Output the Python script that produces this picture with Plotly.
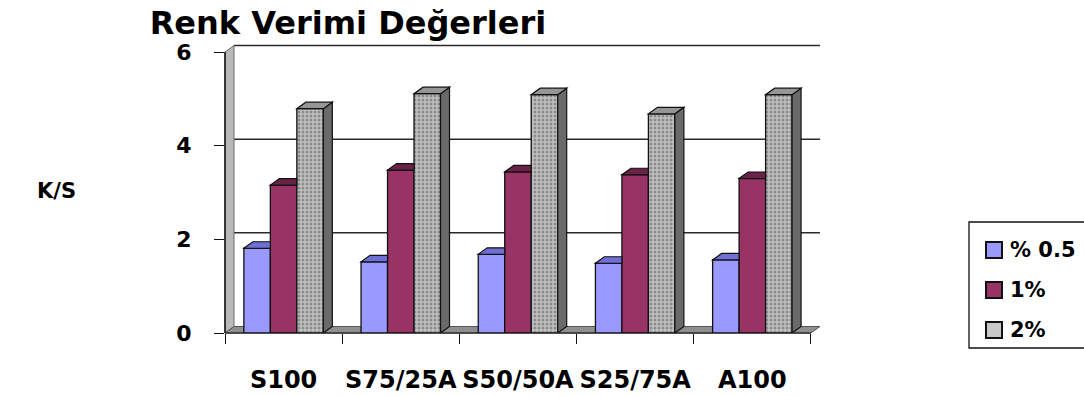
import plotly.graph_objects as go

# ---- data -------------------------------------------------------------
categories = ["S100", "S75/25A", "S50/50A", "S25/75A", "A100"]
series_names = ["% 0.5", "1%", "2%"]
vals_05 = [1.81, 1.52, 1.68, 1.49, 1.56]
vals_1 = [3.16, 3.48, 3.44, 3.38, 3.30]
vals_2 = [4.79, 5.11, 5.09, 4.68, 5.09]
y_ticks = [0, 2, 4, 6]

# ---- styling ----------------------------------------------------------
FONT = "DejaVu Sans"
W, H = 1084, 396
M_L, M_R, M_T, M_B = 225, 259, 38, 63
PLOT_W = W - M_L - M_R
PLOT_H = H - M_T - M_B
XMIN, XMAX = -0.5, 4.62
YMIN, YMAX = 0.0, 6.3
BARGAP = 0.322
BW = (1 - BARGAP) / 3
DEPTH_X, DEPTH_Y = 9, 6.5          # 3-D depth offset in pixels

front = ["#9999ff", "#993366", "#c0c0c0"]
tops = ["#6f6fd6", "#6a2248", "#969696"]
side_gray = "#6a6a6a"
edge = "#111111"

# depth offset expressed in axis units
DX = DEPTH_X * (XMAX - XMIN) / PLOT_W
DY = DEPTH_Y * (YMAX - YMIN) / PLOT_H


def xp(v):
    """x data value -> paper fraction"""
    return (v - XMIN) / (XMAX - XMIN)


def yp(v):
    """y data value -> paper fraction"""
    return (v - YMIN) / (YMAX - YMIN)


def px_x(p):
    return (p - M_L) / PLOT_W


def px_y(p):
    return (H - M_B - p) / PLOT_H


fig = go.Figure()
xs = list(range(len(categories)))
all_vals = [vals_05, vals_1, vals_2]
for k, (name, vals) in enumerate(zip(series_names, all_vals)):
    marker = dict(color=front[k], line=dict(color=edge, width=1.3))
    if k == 2:
        # speckled stone-like fill for the 2% series
        marker["pattern"] = dict(shape=".", fgcolor="#585858", size=4,
                                 solidity=0.45, fillmode="overlay")
    fig.add_trace(go.Bar(x=xs, y=vals, name=name, marker=marker,
                         showlegend=False, hoverinfo="y+name"))

shapes = []
dxp = DX / (XMAX - XMIN)
dyp = DY / (YMAX - YMIN)

# back wall gridlines
for v in [2, 4, 6]:
    shapes.append(dict(type="line", xref="paper", yref="paper", layer="below",
                       x0=xp(-0.5) + dxp, x1=xp(4.5) + dxp,
                       y0=yp(v) + dyp, y1=yp(v) + dyp,
                       line=dict(color="#2a2a2a", width=1.5)))

# left side wall
shapes.append(dict(type="path", xref="paper", yref="paper", layer="below",
                   path=f"M {xp(-0.5)},{yp(0)} L {xp(-0.5)+dxp},{yp(0)+dyp} "
                        f"L {xp(-0.5)+dxp},{yp(6)+dyp} L {xp(-0.5)},{yp(6)} Z",
                   fillcolor="#b9b9b9", line=dict(color="#6a6a6a", width=1)))
# floor
shapes.append(dict(type="path", xref="paper", yref="paper", layer="below",
                   path=f"M {xp(-0.5)},{yp(0)} L {xp(4.5)},{yp(0)} "
                        f"L {xp(4.5)+dxp},{yp(0)+dyp} L {xp(-0.5)+dxp},{yp(0)+dyp} Z",
                   fillcolor="#8f8f8f", line=dict(color="#555555", width=1)))
# front axis lines
shapes.append(dict(type="line", xref="paper", yref="paper", layer="above",
                   x0=xp(-0.5), x1=xp(-0.5), y0=yp(0), y1=yp(6),
                   line=dict(color=edge, width=1.5)))
shapes.append(dict(type="line", xref="paper", yref="paper", layer="below",
                   x0=xp(-0.5), x1=xp(4.5), y0=yp(0), y1=yp(0),
                   line=dict(color="#333333", width=1.5)))

# visible top / side faces of the 3-D bars
for i in xs:
    for k, vals in enumerate(all_vals):
        v = vals[i]
        x0 = i + (k - 1) * BW - BW / 2
        x1 = x0 + BW
        if k < 2:
            # right part of the top is hidden by the next (taller) bar
            path = f"M {x0},{v} L {x1},{v} L {x1},{v+DY} L {x0+DX},{v+DY} Z"
            shapes.append(dict(type="path", xref="x", yref="y", layer="above",
                               path=path, fillcolor=tops[k],
                               line=dict(color=edge, width=1.2)))
        else:
            top = f"M {x0},{v} L {x1},{v} L {x1+DX},{v+DY} L {x0+DX},{v+DY} Z"
            side = f"M {x1},{0} L {x1},{v} L {x1+DX},{v+DY} L {x1+DX},{DY} Z"
            shapes.append(dict(type="path", xref="x", yref="y", layer="above",
                               path=side, fillcolor=side_gray,
                               line=dict(color=edge, width=1.2)))
            shapes.append(dict(type="path", xref="x", yref="y", layer="above",
                               path=top, fillcolor=tops[k],
                               line=dict(color=edge, width=1.2)))

# legend box
leg_left, leg_top, leg_bot = 969, 222, 348
shapes.append(dict(type="rect", xref="paper", yref="paper", layer="above",
                   x0=px_x(leg_left), x1=px_x(W + 10), y0=px_y(leg_bot), y1=px_y(leg_top),
                   fillcolor="white", line=dict(color="#111111", width=1.3)))
annotations = []
leg_centers = [250, 290, 330]
leg_fill = ["#9999ff", "#993366", "#c9c9c9"]
for name, cy, col in zip(series_names, leg_centers, leg_fill):
    shapes.append(dict(type="rect", xref="paper", yref="paper", layer="above",
                       x0=px_x(986), x1=px_x(1002), y0=px_y(cy + 8), y1=px_y(cy - 8),
                       fillcolor=col, line=dict(color="#111111", width=2)))
    annotations.append(dict(xref="paper", yref="paper", x=px_x(1008), y=px_y(cy),
                            xanchor="left", yanchor="middle", showarrow=False,
                            text=f"<b>{name}</b>",
                            font=dict(family=FONT, size=21, color="black")))

# y axis caption
annotations.append(dict(xref="paper", yref="paper", x=px_x(56), y=px_y(191),
                        xanchor="center", yanchor="middle", showarrow=False,
                        text="<b>K/S</b>", font=dict(family=FONT, size=21, color="black")))

fig.update_layout(
    width=W, height=H,
    margin=dict(l=M_L, r=M_R, t=M_T, b=M_B, autoexpand=False),
    paper_bgcolor="white", plot_bgcolor="rgba(0,0,0,0)",
    barmode="group", bargap=BARGAP, bargroupgap=0,
    title=dict(text="<b>Renk Verimi Değerleri</b>", xref="paper",
               x=px_x(348), xanchor="center", yref="container",
               y=1 - 23 / H, yanchor="middle",
               font=dict(family=FONT, size=32, color="black")),
    shapes=shapes, annotations=annotations,
    showlegend=False,
    xaxis=dict(range=[XMIN, XMAX], tickmode="array", tickvals=xs, ticktext=categories,
               ticks="", showgrid=False, zeroline=False, showline=False,
               tickangle=0, automargin=False, ticklabelstandoff=30,
               tickfont=dict(family=FONT, size=24, color="black", weight="bold"),
               minor=dict(tickmode="array", tickvals=[i - 0.5 for i in range(len(categories) + 1)],
                          ticks="outside", ticklen=10, tickcolor="#111111", tickwidth=1.3,
                          showgrid=False)),
    yaxis=dict(range=[YMIN, YMAX], tickmode="array", tickvals=y_ticks,
               ticks="outside", ticklen=10, tickcolor="#111111", tickwidth=1.3,
               showgrid=False, zeroline=False, showline=False,
               automargin=False, ticklabelstandoff=18,
               tickfont=dict(family=FONT, size=22, color="black", weight="bold")),
)

fig.write_html("out.html")
